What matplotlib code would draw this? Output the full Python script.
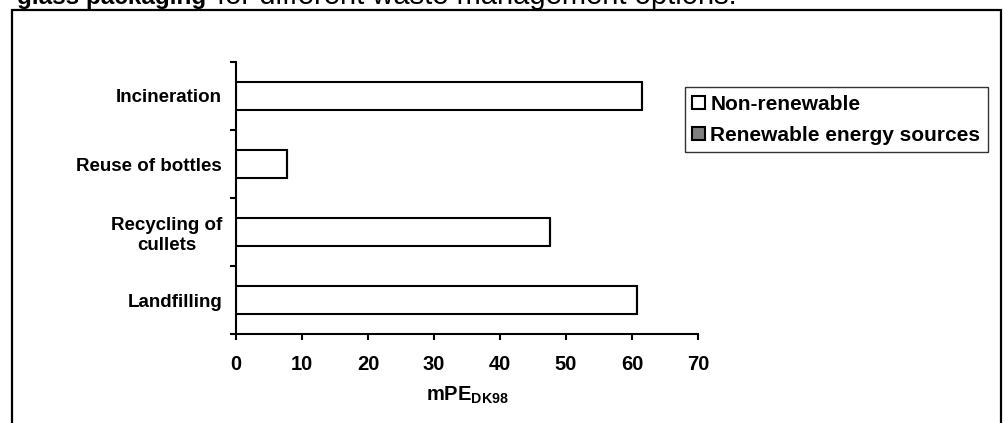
import matplotlib

matplotlib.use("Agg")

import matplotlib.pyplot as plt
import numpy as np
from matplotlib.patches import Rectangle

CATEGORIES = ["Landfilling", "Recycling of\ncullets", "Reuse of bottles", "Incineration"]
NON_RENEWABLE = [60.8, 47.5, 7.7, 61.5]
RENEWABLE = [0.0, 0.0, 0.0, 0.0]
SERIES_LABELS = ["Non-renewable", "Renewable energy sources"]
X_TICKS = [0, 10, 20, 30, 40, 50, 60, 70]

W, H = 1004, 423

plt.rcParams.update(
    {
        "font.family": ["Liberation Sans", "DejaVu Sans"],
        "font.weight": "bold",
        "mathtext.fontset": "custom",
        "mathtext.rm": "Liberation Sans",
        "mathtext.bf": "Liberation Sans:bold",
    }
)


def fx(px):
    return px / W


def fy(py):
    return 1 - py / H


fig = plt.figure(figsize=(W / 100, H / 100), dpi=100)
fig.patch.set_facecolor("white")

# caption line from the document, cut at the top edge
fig.text(fx(17), fy(4), "glass packaging", fontsize=17.5, fontweight="bold",
         va="baseline", ha="left")
fig.text(fx(217), fy(4), "for different waste management options.", fontsize=21.0,
         fontweight="normal", va="baseline", ha="left")

# chart area border
fig.patches.append(
    Rectangle((fx(12), fy(460)), fx(1001) - fx(12), fy(10) - fy(460),
              transform=fig.transFigure, fill=False, edgecolor="black",
              linewidth=1.6, clip_on=False)
)

ax = fig.add_axes([fx(236), fy(334), fx(698) - fx(236), fy(62) - fy(334)])
pos = np.arange(len(CATEGORIES))
bar_h = 0.41
ax.barh(pos, NON_RENEWABLE, height=bar_h, color="white", edgecolor="black",
        linewidth=1.5, label=SERIES_LABELS[0])
ax.barh(pos, RENEWABLE, left=NON_RENEWABLE, height=bar_h, color="#808080",
        edgecolor="black", linewidth=1.5, label=SERIES_LABELS[1])

ax.set_xlim(0, 70)
ax.set_ylim(-0.5, len(CATEGORIES) - 0.5)
ax.set_xticks(X_TICKS)
ax.set_xticklabels([str(t) for t in X_TICKS], fontsize=14.5, fontweight="bold")
ax.tick_params(axis="x", direction="out", length=4, width=1.5, pad=11)

# ticks sit between categories, labels at the centres
ax.set_yticks(np.arange(-0.5, len(CATEGORIES), 1.0))
ax.set_yticklabels([])
ax.set_yticks(pos, minor=True)
ax.set_yticklabels(CATEGORIES, minor=True, fontsize=13.5, fontweight="bold",
                   multialignment="center")
ax.tick_params(axis="y", which="major", direction="out", length=4, width=1.5)
ax.tick_params(axis="y", which="minor", length=0, pad=10)

for side in ("top", "right"):
    ax.spines[side].set_visible(False)
for side in ("left", "bottom"):
    ax.spines[side].set_linewidth(1.5)

ax.set_xlabel(r"$\mathbf{mPE}_{\mathbf{DK98}}$", fontsize=14.5, labelpad=8)

handles, labels = ax.get_legend_handles_labels()
leg = fig.legend(
    handles, labels, loc="upper left",
    bbox_to_anchor=(fx(685), fy(87)), bbox_transform=fig.transFigure,
    borderaxespad=0, frameon=True, fancybox=False,
    edgecolor="black", handlelength=0.6, handleheight=0.6,
    handletextpad=0.25, labelspacing=0.6, borderpad=0.36,
    prop={"weight": "bold", "size": 15},
)
leg.get_frame().set_linewidth(1.0)

fig.savefig("out.png", dpi=100)
